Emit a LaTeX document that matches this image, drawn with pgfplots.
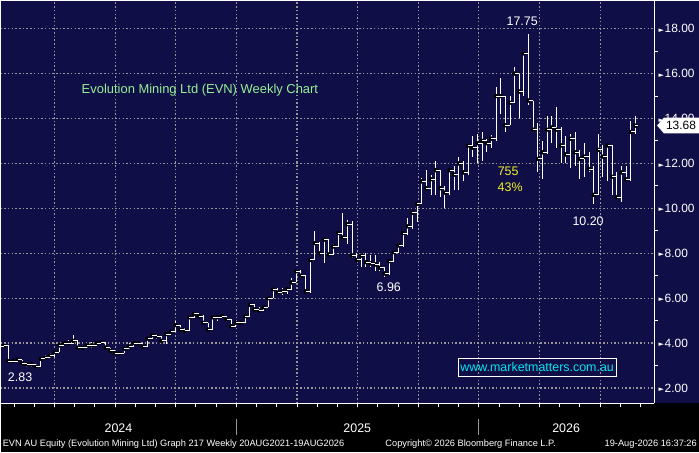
\documentclass[border=0pt]{standalone}
\usepackage{pgfplots}
\pgfplotsset{compat=1.18}
\usepackage{pgfplotstable}
\usepackage{fontspec}
\setmainfont{Liberation Sans}
\newfontfamily\dejavu{DejaVu Sans}
\definecolor{navy}{RGB}{16,14,70}
\definecolor{gridgray}{RGB}{150,150,150}
\definecolor{titlegreen}{RGB}{150,240,150}
\definecolor{annyellow}{RGB}{240,240,40}
\definecolor{wwwcyan}{RGB}{0,230,240}
\pgfdeclareplotmark{closetick}{\pgfpathmoveto{\pgfpointorigin}\pgfpathlineto{\pgfpoint{2.4bp}{0bp}}\pgfusepathqstroke}
\pgfdeclareplotmark{opentick}{\pgfpathmoveto{\pgfpointorigin}\pgfpathlineto{\pgfpoint{-2.4bp}{0bp}}\pgfusepathqstroke}
\newcommand{\tri}{\raisebox{0.5bp}{\dejavu\fontsize{7}{8}\selectfont ►}}

\pgfplotstableread{
k o h l c
0 3.85 3.95 3.80 3.88
1 3.88 3.90 3.10 3.20
2 3.20 3.25 3.15 3.20
3 3.20 3.30 3.15 3.25
4 3.25 3.25 3.05 3.10
5 3.10 3.12 2.95 3.05
6 3.05 3.10 2.95 3.05
7 3.05 3.05 2.83 2.95
8 2.95 3.35 2.95 3.30
9 3.30 3.45 3.25 3.35
10 3.35 3.55 3.35 3.45
11 3.45 3.70 3.40 3.60
12 3.60 3.95 3.60 3.90
13 3.90 4.10 3.90 4.00
14 4.00 4.15 3.90 4.00
15 4.00 4.35 3.95 4.10
16 4.10 4.10 3.75 3.80
17 3.80 3.90 3.75 3.80
18 3.80 4.00 3.80 3.90
19 3.90 4.05 3.80 3.90
20 3.90 4.05 3.85 4.00
21 4.00 4.10 3.95 4.03
22 4.03 4.03 3.75 3.80
23 3.80 3.80 3.60 3.65
24 3.65 3.65 3.45 3.55
25 3.55 3.65 3.45 3.55
26 3.55 3.80 3.55 3.75
27 3.75 4.00 3.75 3.85
28 3.85 4.10 3.85 4.00
29 4.00 4.05 3.90 3.98
30 3.98 4.00 3.80 3.85
31 3.85 4.25 3.85 4.20
32 4.20 4.45 4.20 4.35
33 4.35 4.40 4.20 4.30
34 4.30 4.30 4.00 4.10
35 4.10 4.45 3.95 4.40
36 4.40 4.60 4.35 4.50
37 4.50 5.00 4.50 4.80
38 4.80 4.80 4.55 4.60
39 4.60 4.65 4.50 4.55
40 4.55 5.20 4.55 5.15
41 5.15 5.40 5.10 5.30
42 5.30 5.30 5.10 5.20
43 5.20 5.25 4.85 4.90
44 4.90 4.90 4.55 4.60
45 4.60 5.20 4.60 5.15
46 5.15 5.20 5.00 5.15
47 5.15 5.25 5.10 5.20
48 5.20 5.20 4.95 5.05
49 5.05 5.05 4.70 4.75
50 4.75 4.95 4.75 4.90
51 4.90 4.95 4.80 4.90
52 4.90 5.25 4.90 5.20
53 5.20 5.80 5.20 5.70
54 5.70 5.75 5.45 5.50
55 5.50 5.60 5.40 5.45
56 5.45 5.65 5.45 5.60
57 5.60 6.05 5.60 6.00
58 6.00 6.50 6.00 6.40
59 6.40 6.45 6.15 6.25
60 6.25 6.45 6.15 6.30
61 6.30 6.45 6.20 6.40
62 6.40 6.90 6.40 6.70
63 6.70 7.30 6.70 7.20
64 7.20 7.25 6.90 7.00
65 7.00 7.00 6.25 6.30
66 6.30 7.75 6.25 7.70
67 7.70 9.00 7.70 8.45
68 8.45 8.50 7.90 8.00
69 8.00 8.65 7.55 8.60
70 8.60 8.60 7.90 7.95
71 7.95 8.40 7.90 8.30
72 8.30 9.00 8.30 8.90
73 8.90 9.80 8.60 8.70
74 8.70 9.50 8.40 9.30
75 9.30 9.45 7.80 7.90
76 7.90 8.00 7.60 7.70
77 7.70 8.00 7.40 7.90
78 7.90 8.00 7.40 7.60
79 7.60 7.90 7.40 7.55
80 7.55 7.90 7.20 7.50
81 7.50 7.60 7.20 7.35
82 7.35 7.35 6.96 7.10
83 7.10 7.70 7.05 7.65
84 7.65 8.10 7.60 8.05
85 8.05 8.45 8.00 8.35
86 8.35 9.00 8.30 8.90
87 8.90 9.55 8.80 9.20
88 9.20 9.85 9.10 9.80
89 9.80 10.30 9.40 10.20
90 10.20 11.35 10.20 11.20
91 11.20 11.70 10.80 10.90
92 10.90 11.50 10.60 11.30
93 11.30 12.10 10.60 11.70
94 11.70 11.70 10.50 10.90
95 10.90 11.00 10.00 10.70
96 10.70 11.80 10.60 11.70
97 11.70 11.90 10.80 11.50
98 11.50 12.30 10.80 12.00
99 12.00 12.10 11.20 11.60
100 11.60 12.90 11.50 12.80
101 12.80 13.20 12.30 12.70
102 12.70 13.30 12.00 12.90
103 12.90 13.40 12.10 13.00
104 13.00 13.10 12.50 12.90
105 12.90 13.25 12.70 13.10
106 13.10 15.40 13.00 15.00
107 15.00 15.80 14.20 15.00
108 15.00 15.00 13.40 13.70
109 13.70 15.00 13.70 14.70
110 14.70 16.30 14.70 16.00
111 16.00 16.00 14.00 15.20
112 15.20 17.00 15.00 16.90
113 16.90 17.75 14.60 14.80
114 14.80 14.80 13.40 13.50
115 13.50 13.80 11.60 12.20
116 12.20 13.00 11.30 12.50
117 12.50 14.10 12.40 13.50
118 13.50 14.10 12.90 13.60
119 13.60 14.50 12.70 13.50
120 13.50 13.60 12.00 12.80
121 12.80 13.20 12.00 12.40
122 12.40 13.30 11.80 13.10
123 13.10 13.40 11.90 12.50
124 12.50 12.60 11.30 12.20
125 12.20 12.90 11.40 12.30
126 12.30 12.50 11.60 11.75
127 11.75 11.90 10.20 10.60
128 10.60 13.30 10.60 12.60
129 12.60 12.80 11.40 12.30
130 12.30 12.85 11.20 12.80
131 12.80 12.80 10.60 11.40
132 11.40 11.60 10.40 10.50
133 10.50 11.90 10.30 11.60
134 11.60 11.90 11.20 11.30
135 11.30 13.90 11.20 13.40
136 13.40 14.10 13.30 13.68
}\evn

\begin{document}
\begin{tikzpicture}[x=1bp,y=1bp]
\fill[black] (0,0) rectangle (699,49);
\fill[navy] (0,49) rectangle (699,452);
\begin{axis}[
  at={(0bp,49bp)}, anchor=south west,
  scale only axis, width=654bp, height=403bp,
  xmin=-0.645, xmax=140.0, ymin=1.32, ymax=19.25,
  axis x line*=bottom, axis y line*=right,
  axis line style={white, line width=1bp},
  xtick={10.95,24,37.05,50.1,63.15,76.2,89.25,102.3,115.35,128.4},
  minor xtick={2.25,6.6,...,137.1},
  xticklabels={},
  ytick={2,4,...,18},
  minor ytick={3,5,...,17},
  xmajorgrids, ymajorgrids,
  grid style={gridgray, line width=1.2bp, dash pattern=on 1.5bp off 2.2bp},
  tick align=outside,
  xtick style={white, line width=1bp, /pgfplots/major tick length=4bp, /pgfplots/minor tick length=4bp},
  ytick style={white, line width=1bp, /pgfplots/major tick length=0bp, /pgfplots/minor tick length=4bp},
  /pgf/number format/assume math mode=true,
  yticklabel={\tri\hspace{0.8bp}\pgfmathprintnumber[fixed,fixed zerofill,precision=2]{\tick}},
  yticklabel style={anchor=west, inner sep=0pt, xshift=0bp, text=white, font=\fontsize{12}{14}\selectfont},
  clip=true,
]
\addplot[only marks, mark=none, forget plot,
  error bars/.cd, y dir=both, y explicit, error mark=none,
  error bar style={draw=white, line width=1bp, solid}]
  table[x=k, y=c, y error plus expr=\thisrow{h}-\thisrow{c}, y error minus expr=\thisrow{c}-\thisrow{l}] {\evn};
\addplot[only marks, mark=closetick, mark options={white, line width=1bp}] table[x=k, y=c] {\evn};
\addplot[only marks, mark=opentick, mark options={white, line width=1bp}] table[x=k, y=o] {\evn};
\end{axis}
% annotations
\node[anchor=west, text=titlegreen, font=\fontsize{13}{15}\selectfont, inner sep=0pt] at (81,362) {Evolution Mining Ltd (EVN) Weekly Chart};
\node[text=white, font=\fontsize{12.5}{14}\selectfont, inner sep=0pt] at (522,431) {17.75};
\node[text=annyellow, font=\fontsize{12.5}{14}\selectfont, inner sep=0pt] at (508,281) {755};
\node[text=annyellow, font=\fontsize{12.5}{14}\selectfont, inner sep=0pt] at (510,265) {43\%};
\node[text=white, font=\fontsize{12.5}{14}\selectfont, inner sep=0pt] at (588,231) {10.20};
\node[text=white, font=\fontsize{12.5}{14}\selectfont, inner sep=0pt] at (388.5,165) {6.96};
\node[text=white, font=\fontsize{12.5}{14}\selectfont, inner sep=0pt] at (19.5,75) {2.83};
\draw[white, line width=1bp] (458,76) rectangle (616,94);
\node[text=wwwcyan, font=\fontsize{12.5}{14}\selectfont, inner sep=0pt] at (537,85) {www.marketmatters.com.au};
% last price label
\fill[white] (657,327) -- (664,335) -- (699,335) -- (699,319) -- (664,319) -- cycle;
\node[text=black, font=\fontsize{12}{14}\selectfont, inner sep=0pt] at (681,327) {13.68};
% bottom band
\draw[gray!80, line width=1bp] (236,17) -- (236,33);
\draw[gray!80, line width=1bp] (478,17) -- (478,33);
\node[text=white, font=\fontsize{12.5}{14}\selectfont, inner sep=0pt] at (118,24) {2024};
\node[text=white, font=\fontsize{12.5}{14}\selectfont, inner sep=0pt] at (357,24) {2025};
\node[text=white, font=\fontsize{12.5}{14}\selectfont, inner sep=0pt] at (566,24) {2026};
\node[anchor=west, text=white, font=\fontsize{9.3}{10}\selectfont, inner sep=0pt] at (2,8) {EVN AU Equity (Evolution Mining Ltd) Graph 217 Weekly 20AUG2021-19AUG2026};
\node[anchor=west, text=white, font=\fontsize{9.3}{10}\selectfont, inner sep=0pt] at (385,8) {Copyright© 2026 Bloomberg Finance L.P.};
\node[anchor=east, text=white, font=\fontsize{9.3}{10}\selectfont, inner sep=0pt] at (697,8) {19-Aug-2026 16:37:26};
\end{tikzpicture}
\end{document}
